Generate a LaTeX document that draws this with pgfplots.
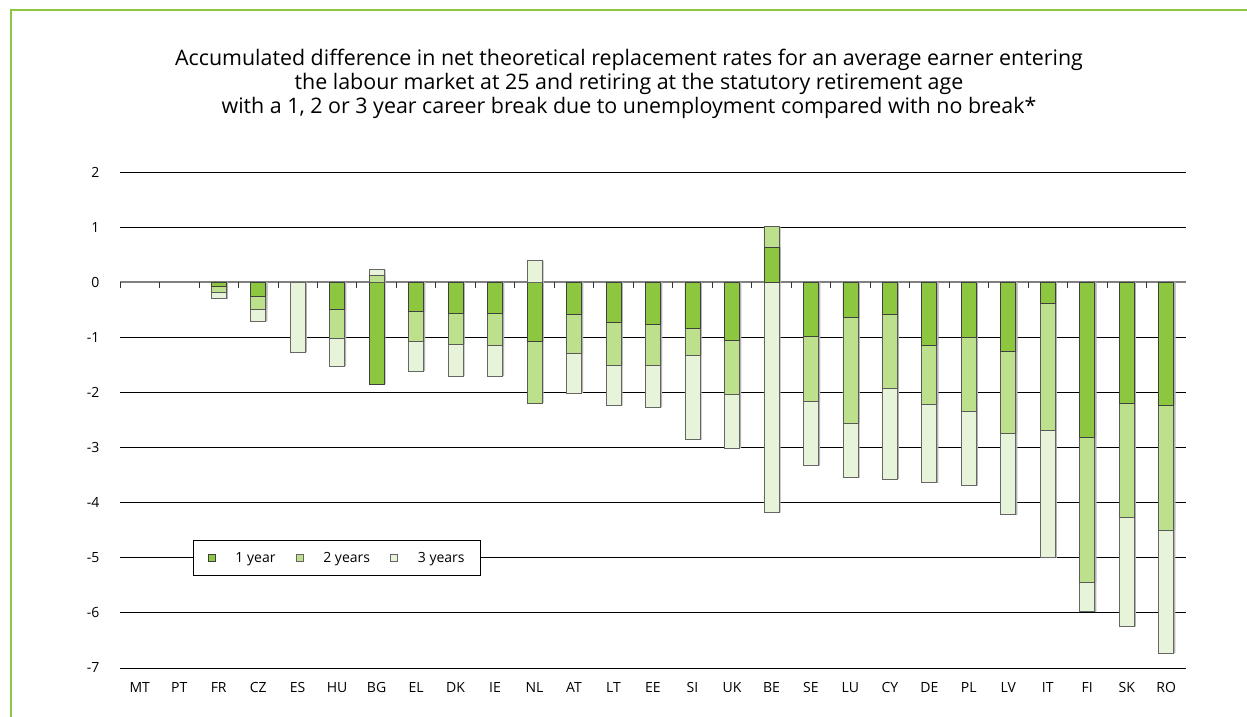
\documentclass[border=0pt]{standalone}
\usepackage{pgfplots}
\pgfplotsset{compat=1.18}
\usepackage{pgfplotstable}
\usepackage{fontspec}
\setmainfont{Open Sans}
\definecolor{gA}{HTML}{8DC63F}
\definecolor{gB}{HTML}{BDE08D}
\definecolor{gC}{HTML}{E8F4D9}
\definecolor{framegreen}{HTML}{8DC63F}
\pgfplotsset{sqlegend/.style={legend image code/.code={\draw[##1] (0pt,-3.5pt) rectangle (7pt,3.5pt);}}}
\pgfplotsset{barshadow/.style={preaction={fill=black!30, draw=none, transform canvas={xshift=1.6pt}}}}
% cumulative bar ends: neg side (n1,n2,n3) and pos side (p1,p2,p3)
\pgfplotstableread{
x  n1    n2    n3    p1   p2   p3
2  -0.08 -0.18 -0.30 nan  nan  nan
3  -0.25 -0.50 -0.71 nan  nan  nan
4  nan   nan   -1.27 nan  nan  nan
5  -0.50 -1.02 -1.52 nan  nan  nan
6  -1.85 nan   nan   nan  0.12 0.23
7  -0.53 -1.08 -1.61 nan  nan  nan
8  -0.56 -1.12 -1.70 nan  nan  nan
9  -0.56 -1.15 -1.70 nan  nan  nan
10 -1.08 -2.19 nan   nan  nan  0.39
11 -0.58 -1.30 -2.01 nan  nan  nan
12 -0.73 -1.51 -2.24 nan  nan  nan
13 -0.77 -1.51 -2.27 nan  nan  nan
14 -0.83 -1.32 -2.86 nan  nan  nan
15 -1.05 -2.04 -3.01 nan  nan  nan
16 nan   nan   -4.18 0.64 1.01 nan
17 -0.99 -2.16 -3.33 nan  nan  nan
18 -0.64 -2.56 -3.55 nan  nan  nan
19 -0.58 -1.93 -3.57 nan  nan  nan
20 -1.14 -2.21 -3.64 nan  nan  nan
21 -1.01 -2.34 -3.69 nan  nan  nan
22 -1.26 -2.74 -4.22 nan  nan  nan
23 -0.39 -2.68 -5.00 nan  nan  nan
24 -2.81 -5.44 -5.98 nan  nan  nan
25 -2.19 -4.26 -6.25 nan  nan  nan
26 -2.24 -4.50 -6.73 nan  nan  nan
}\data
\begin{document}
\begin{tikzpicture}[x=1pt,y=1pt]
\path[use as bounding box] (0,0) rectangle (1247,717);
\draw[framegreen, line width=1.2pt] (11,0) -- (11,707) -- (1247,707);
\node[align=center, font=\fontsize{21.4}{24}\selectfont] at (629,633)
 {Accumulated difference in net theoretical replacement rates for an average earner entering\\
  the labour market at 25 and retiring at the statutory retirement age\\
  with a 1, 2 or 3 year career break due to unemployment compared with no break*};
\begin{axis}[
  at={(120pt,49pt)}, anchor=south west,
  scale only axis, width=1066pt, height=496pt,
  xmin=-0.5, xmax=26.5, ymin=-7, ymax=2,
  axis line style={draw=none},
  major tick length=0pt,
  ytick={-7,-6,...,2},
  yticklabels={-7,-6,-5,-4,-3,-2,-1,0,1,2},
  xtick={0,...,26},
  xticklabels={MT,PT,FR,CZ,ES,HU,BG,EL,DK,IE,NL,AT,LT,EE,SI,UK,BE,SE,LU,CY,DE,PL,LV,IT,FI,SK,RO},
  tick label style={font=\fontsize{14}{16}\selectfont},
  yticklabel style={xshift=-17pt},
  xticklabel style={yshift=-11pt},
  ymajorgrids, grid style={black, line width=0.9pt},
  ybar, bar width=15pt,
  unbounded coords=discard,
  legend style={at={(axis cs:5,-5)}, anchor=center, draw=black, fill=white,
    line width=0.8pt, font=\fontsize{14}{16}\selectfont,
    legend columns=-1, inner xsep=14pt, inner ysep=10pt,
    /tikz/every odd column/.append style={column sep=18pt},
    /tikz/every even column/.append style={column sep=18pt}},
]
\addlegendimage{sqlegend, fill=gA, draw=black!75}
\addlegendentry{1 year}
\addlegendimage{sqlegend, fill=gB, draw=black!60}
\addlegendentry{2 years}
\addlegendimage{sqlegend, fill=gC, draw=black!60}
\addlegendentry{3 years}
\draw[black!50, line width=1.5pt] (axis cs:-0.5,0) -- (axis cs:26.5,0);
\pgfplotsinvokeforeach{-0.5,0.5,...,26.5}{\draw[black!80, line width=0.8pt] (axis cs:#1,0) -- ++(0pt,-6pt);}
\addplot[forget plot, bar shift=0pt, barshadow, fill=gC, draw=black!60, line width=0.8pt] table[x=x,y=n3] {\data};
\addplot[forget plot, bar shift=0pt, barshadow, fill=gB, draw=black!65, line width=0.8pt] table[x=x,y=n2] {\data};
\addplot[forget plot, bar shift=0pt, barshadow, fill=gA, draw=black!75, line width=0.8pt] table[x=x,y=n1] {\data};
\addplot[forget plot, bar shift=0pt, barshadow, fill=gC, draw=black!60, line width=0.8pt] table[x=x,y=p3] {\data};
\addplot[forget plot, bar shift=0pt, barshadow, fill=gB, draw=black!65, line width=0.8pt] table[x=x,y=p2] {\data};
\addplot[forget plot, bar shift=0pt, barshadow, fill=gA, draw=black!75, line width=0.8pt] table[x=x,y=p1] {\data};
\end{axis}
\end{tikzpicture}
\end{document}
